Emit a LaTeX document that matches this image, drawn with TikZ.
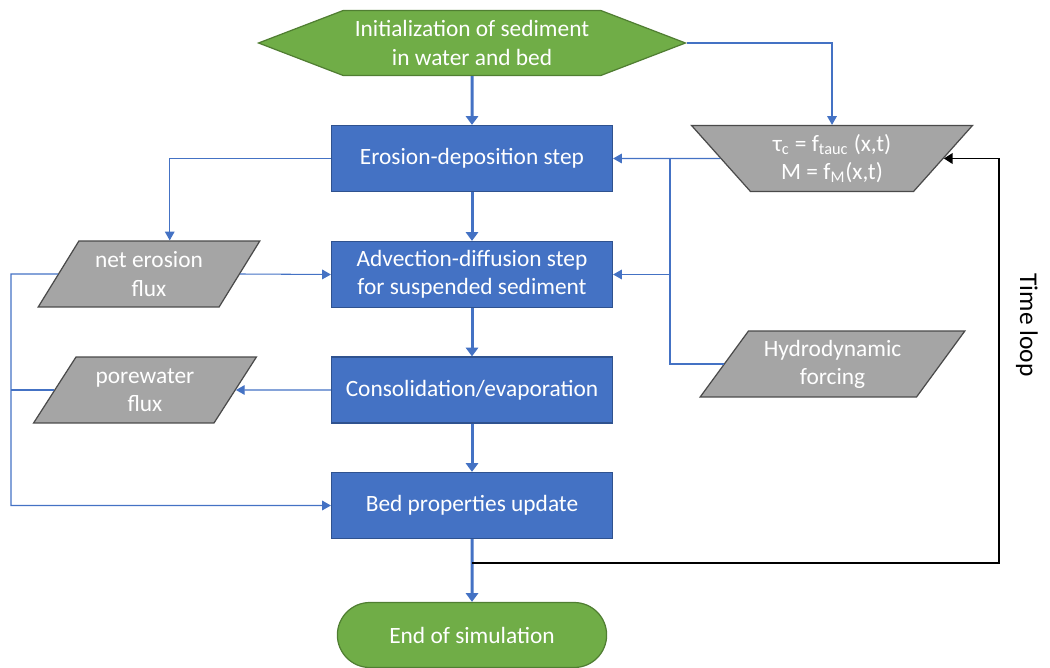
\documentclass[tikz,border=0pt]{standalone}
\usepackage{fontspec}
\setmainfont{Carlito}
\usetikzlibrary{shapes.geometric,shapes.symbols,shapes.misc,arrows.meta}

\definecolor{stepblue}{HTML}{4472C4}
\definecolor{stepedge}{HTML}{2F528F}
\definecolor{termgreen}{HTML}{70AD47}
\definecolor{termedge}{HTML}{507E32}
\definecolor{datagrey}{HTML}{A5A5A5}
\definecolor{dataedge}{HTML}{4A4A4A}

\begin{document}
\begin{tikzpicture}[
        x=0.02cm, y=-0.02cm,
        font=\fontsize{13.3}{16}\selectfont,
        process/.style={draw=stepedge, fill=stepblue, text=white, line width=0.7pt,
            minimum width=5.62cm, minimum height=1.32cm, align=center},
        terminal/.style={draw=termedge, fill=termgreen, text=white, line width=0.7pt,
            minimum height=1.3cm, align=center},
        data/.style={trapezium, trapezium stretches=true, draw=dataedge, fill=datagrey,
            text=white, line width=0.7pt, minimum height=1.32cm, inner sep=1pt, align=center},
        mainflow/.style={-{Triangle[width=7pt,length=5pt]}, line width=1.7pt, draw=stepblue},
        sideflow/.style={-{Triangle[width=5.5pt,length=5pt]}, line width=0.6pt, draw=stepblue},
        sideline/.style={line width=0.6pt, draw=stepblue},
        loopflow/.style={-{Triangle[width=6pt,length=5pt]}, line width=1.1pt, black}
    ]
        \useasboundingbox (0,0) rectangle (1050,668);

        % main chain of steps
        \node[terminal, signal, signal to=west and east, signal pointer angle=42,
            minimum width=8.54cm] (init) at (472,43) {Initialization of sediment\\in water and bed};
        \node[process] (ero) at (472,158.5) {Erosion-deposition step};
        \node[process] (adv) at (472,274.5) {Advection-diffusion step\\for suspended sediment};
        \node[process] (cons) at (472,390) {Consolidation/evaporation};
        \node[process] (bed) at (472,505.5) {Bed properties update};
        \node[terminal, rounded rectangle, minimum width=5.62cm] (endsim) at (472,635) {End of simulation};

        % inputs and outputs
        \node[data, shape border rotate=180, trapezium left angle=50, trapezium right angle=50,
            minimum width=5.62cm] (taufun) at (832,158.5)
            {τ\textsubscript{c} = f\textsubscript{tauc} (x,t)\\M = f\textsubscript{M}(x,t)};
        \node[data, trapezium left angle=52, trapezium right angle=128,
            minimum width=5.3cm] (hydro) at (832.5,364) {Hydrodynamic\\forcing};
        \node[data, trapezium left angle=56, trapezium right angle=124,
            minimum width=4.48cm] (neteros) at (149,274) {net erosion\\flux};
        \node[data, trapezium left angle=56, trapezium right angle=124,
            minimum width=4.48cm] (porewater) at (145,390) {porewater\\flux};

        \node[rotate=-90, font=\fontsize{14.5}{17}\selectfont] (looplabel) at (1027,325) {Time loop};

        \coordinate (split) at (670,274.5);
        \coordinate (rail) at (11,274);
        \coordinate (loopstart) at (472,563);
        \coordinate (loopturn) at (999,563);

        % thick arrows down the chain
        \foreach \from/\to in {init/ero, ero/adv, adv/cons, cons/bed, bed/endsim}
            \draw[mainflow] (\from) -- (\to);

        % side connections
        \draw[sideflow] (init.east) -| (taufun.north);
        \draw[sideflow] (taufun.west) -- (ero.east);
        \draw[sideline] (hydro.west) -| (split |- ero.east);
        \draw[sideflow] (split) -- (adv.east);
        \draw[sideflow] (ero.west) -| (neteros.top side);
        \draw[sideflow] (neteros.east) -- (adv.west);
        \draw[sideflow] (neteros.west) -- (rail) |- (bed.west);
        \draw[sideflow] (cons.west) -- (porewater.east);
        \draw[sideline] (porewater.west) -- (porewater.west -| rail);

        % time loop back to the parameters
        \draw[loopflow] (loopstart) -- (loopturn) |- (taufun.east);
    \end{tikzpicture}
\end{document}
